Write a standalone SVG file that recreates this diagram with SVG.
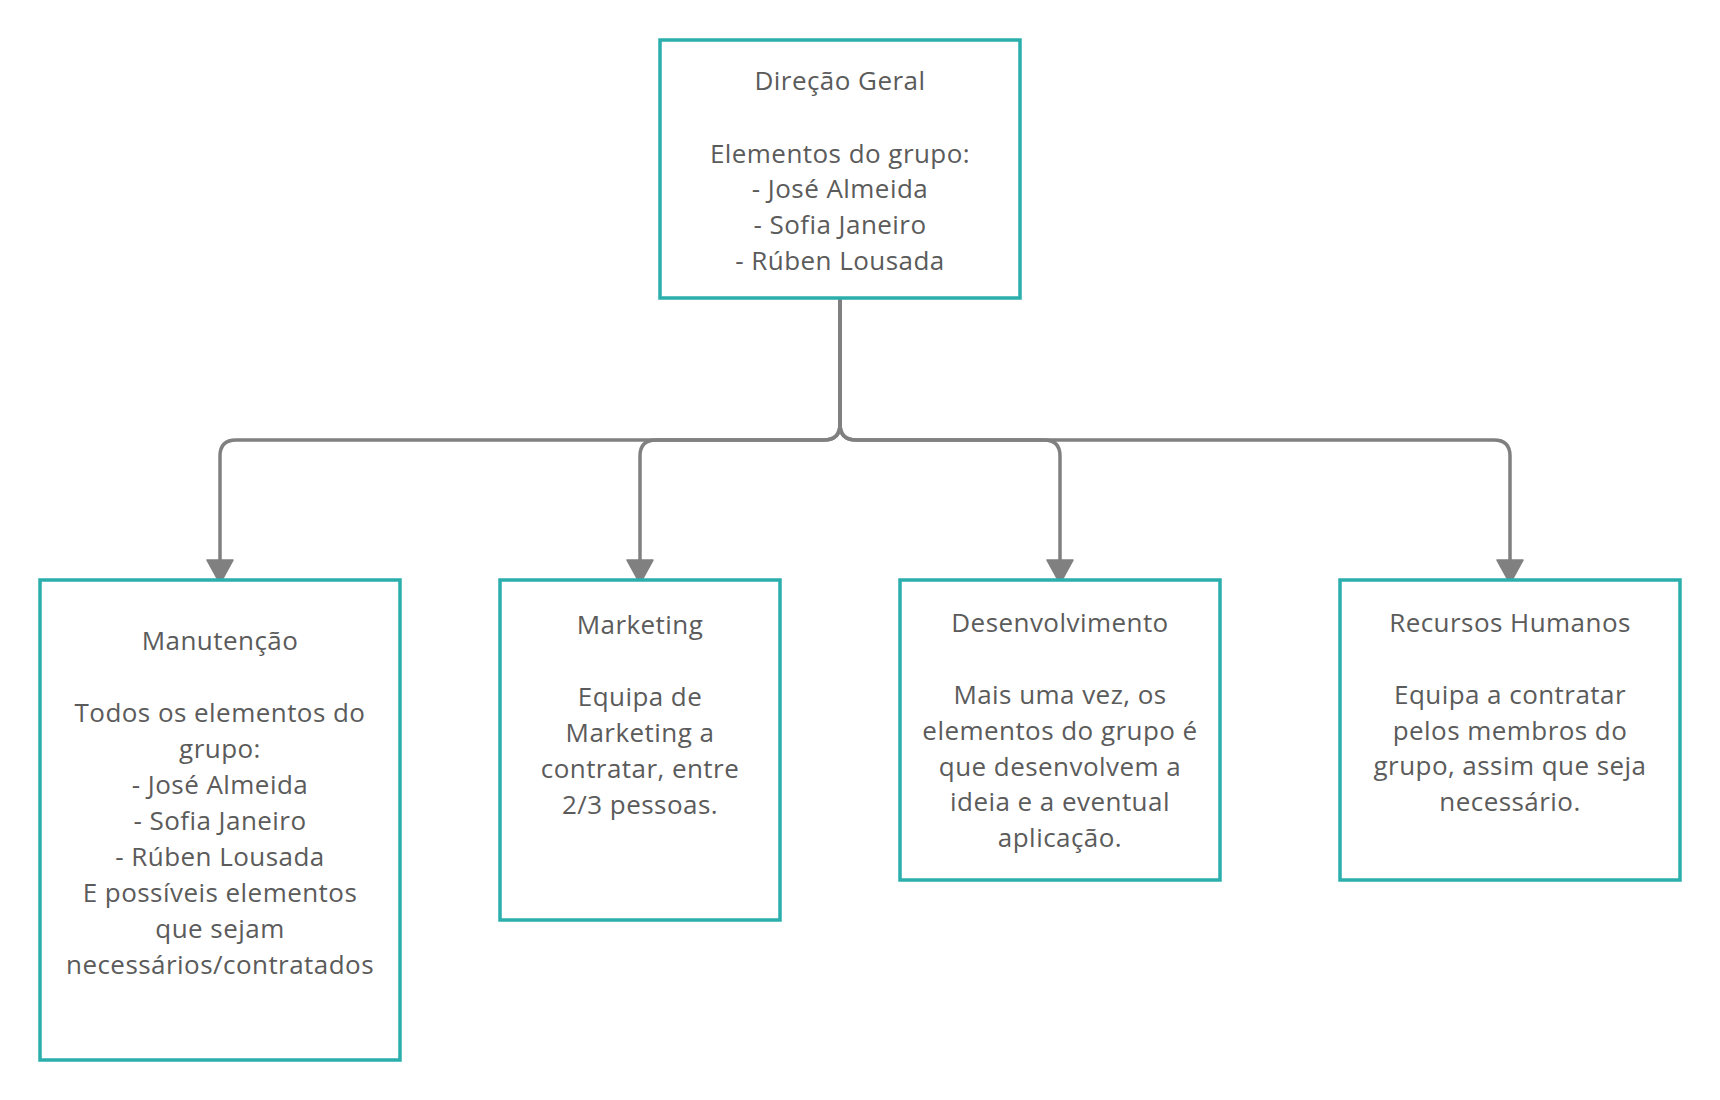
<svg xmlns="http://www.w3.org/2000/svg" width="1720" height="1100" viewBox="0 0 1720 1100">
<style>
.box{fill:#ffffff;stroke:#2aafad;stroke-width:3.5}
.t{font-family:"Open Sans","Noto Sans","Liberation Sans",sans-serif;font-size:26px;letter-spacing:0.45px;fill:#5b5b5b;text-anchor:middle}
.c{fill:none;stroke:#808080;stroke-width:3.5;stroke-linejoin:round}
</style>
<defs>
<marker id="ah" markerUnits="userSpaceOnUse" markerWidth="26" markerHeight="28" viewBox="0 -13 24 26" refX="0" refY="0" orient="auto" overflow="visible">
<path d="M0,-12 L22,0 L0,12 Z" fill="#808080" stroke="#808080" stroke-width="1.5" stroke-linejoin="round"/>
</marker>
</defs>
<rect width="1720" height="1100" fill="#ffffff"/>
<g id="connectors">
<path class="c" d="M840,298 V424 Q840,440 824,440 H236 Q220,440 220,456 V560" marker-end="url(#ah)"/>
<path class="c" d="M840,298 V424 Q840,440 824,440 H656 Q640,440 640,456 V560" marker-end="url(#ah)"/>
<path class="c" d="M840,298 V424 Q840,440 856,440 H1044 Q1060,440 1060,456 V560" marker-end="url(#ah)"/>
<path class="c" d="M840,298 V424 Q840,440 856,440 H1494 Q1510,440 1510,456 V560" marker-end="url(#ah)"/>
</g>
<g id="direcao">
<rect class="box" x="660" y="40" width="360" height="258"/>
<text class="t" x="840" y="90">Direção Geral</text>
<text class="t" x="840" y="162.5">Elementos do grupo:</text>
<text class="t" x="840" y="198">- José Almeida</text>
<text class="t" x="840" y="234">- Sofia Janeiro</text>
<text class="t" x="840" y="269.5">- Rúben Lousada</text>
</g>
<g id="manutencao">
<rect class="box" x="40" y="580" width="360" height="480"/>
<text class="t" x="220" y="649.5">Manutenção</text>
<text class="t" x="220" y="721.5">Todos os elementos do</text>
<text class="t" x="220" y="757.5">grupo:</text>
<text class="t" x="220" y="793.5">- José Almeida</text>
<text class="t" x="220" y="829.5">- Sofia Janeiro</text>
<text class="t" x="220" y="865.5">- Rúben Lousada</text>
<text class="t" x="220" y="901.5">E possíveis elementos</text>
<text class="t" x="220" y="937.5">que sejam</text>
<text class="t" x="220" y="973.5">necessários/contratados</text>
</g>
<g id="marketing">
<rect class="box" x="500" y="580" width="280" height="340"/>
<text class="t" x="640" y="634">Marketing</text>
<text class="t" x="640" y="706">Equipa de</text>
<text class="t" x="640" y="742">Marketing a</text>
<text class="t" x="640" y="777.5">contratar, entre</text>
<text class="t" x="640" y="813.5">2/3 pessoas.</text>
</g>
<g id="desenvolvimento">
<rect class="box" x="900" y="580" width="320" height="300"/>
<text class="t" x="1060" y="631.5">Desenvolvimento</text>
<text class="t" x="1060" y="703.5">Mais uma vez, os</text>
<text class="t" x="1060" y="739.5">elementos do grupo é</text>
<text class="t" x="1060" y="775.5">que desenvolvem a</text>
<text class="t" x="1060" y="811">ideia e a eventual</text>
<text class="t" x="1060" y="847">aplicação.</text>
</g>
<g id="recursos">
<rect class="box" x="1340" y="580" width="340" height="300"/>
<text class="t" x="1510" y="631.5">Recursos Humanos</text>
<text class="t" x="1510" y="703.5">Equipa a contratar</text>
<text class="t" x="1510" y="739.5">pelos membros do</text>
<text class="t" x="1510" y="775">grupo, assim que seja</text>
<text class="t" x="1510" y="811">necessário.</text>
</g>
</svg>
